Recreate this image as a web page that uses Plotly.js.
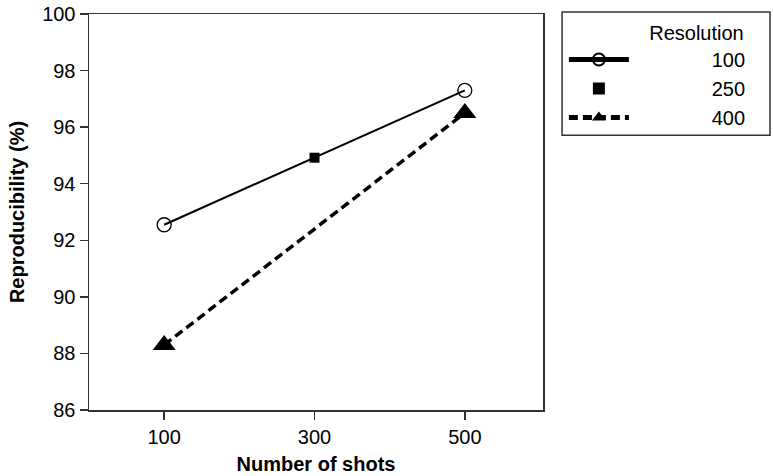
<!DOCTYPE html>
<html>
<head>
<meta charset="utf-8">
<script src="https://cdn.plot.ly/plotly-3.0.1.min.js"></script>
<style>
  html, body { margin: 0; padding: 0; background: #fff; }
  #chart { width: 773px; height: 476px; }
</style>
</head>
<body>
<div id="chart"></div>
<script>
// shots on the x axis (categories)
var shots = ["100", "300", "500"];

// reproducibility (%) per resolution
var res100X = ["100", "500"];
var res100Y = [92.55, 97.3];
var res250X = ["300"];
var res250Y = [94.92];
var res400X = ["100", "500"];
var res400Y = [88.3, 96.5];

var yTicks = [86, 88, 90, 92, 94, 96, 98, 100];

var font = "Liberation Sans, Arial, sans-serif";
// non-breaking spaces so the legend text sits right-aligned like the original
var nb = function (n) { return "\u00a0".repeat(n); };

var data = [
  {
    name: nb(14) + "100", x: res100X, y: res100Y,
    type: "scatter", mode: "lines+markers",
    line: { color: "#000", width: 2 },
    marker: { symbol: "circle-open", size: 14, color: "#000", line: { width: 1.3, color: "#000" } },
  },
  {
    name: nb(14) + "250", x: res250X, y: res250Y,
    type: "scatter", mode: "markers",
    marker: { symbol: "square", size: 10, color: "#000" },
  },
  {
    name: nb(14) + "400", x: res400X, y: res400Y,
    type: "scatter", mode: "lines+markers",
    line: { color: "#000", width: 3.5, dash: "9px,5px" },
    marker: { symbol: "triangle-up", size: 20, color: "#000" },
  },
];

var layout = {
  width: 773, height: 476,
  margin: { l: 89, r: 230, t: 14, b: 66, autoexpand: false },
  paper_bgcolor: "#fff", plot_bgcolor: "#fff",
  font: { family: font, size: 20, color: "#000" },
  showlegend: true,
  xaxis: {
    type: "category",
    categoryorder: "array", categoryarray: shots,
    range: [-0.5, 2.52],
    showgrid: false, zeroline: false,
    showline: true, mirror: true, linecolor: "#333", linewidth: 1.5,
    ticks: "outside", ticklen: 8, tickcolor: "#333", tickwidth: 1.5,
    tickfont: { family: font, size: 20 },
    title: { text: "<b>Number of shots</b>", font: { family: font, size: 20 }, standoff: 10 },
  },
  yaxis: {
    range: [86, 100],
    tickvals: yTicks,
    showgrid: false, zeroline: false,
    showline: true, mirror: true, linecolor: "#333", linewidth: 1.5,
    ticks: "outside", ticklen: 8, tickcolor: "#333", tickwidth: 1.5,
    tickfont: { family: font, size: 20 },
    title: { text: "<b>Reproducibility (%)</b>", font: { family: font, size: 20 }, standoff: 12 },
  },
  legend: {
    x: 1.046, y: 1.0, xanchor: "left", yanchor: "top",
    borderwidth: 0, bgcolor: "rgba(0,0,0,0)",
    font: { family: font, size: 20 },
    title: { text: nb(15) + "Resolution", side: "top", font: { family: font, size: 20 } },
    itemsizing: "constant",
    itemwidth: 60,
    tracegroupgap: 0,
  },
  // frame around the legend
  shapes: [{
    type: "rect", xref: "paper", yref: "paper",
    x0: 1.042, x1: 1.5, y0: 0.694, y1: 1.005,
    line: { color: "#333", width: 1.5 },
  }],
};

Plotly.newPlot("chart", data, layout, { displayModeBar: false, staticPlot: true });
</script>
</body>
</html>
